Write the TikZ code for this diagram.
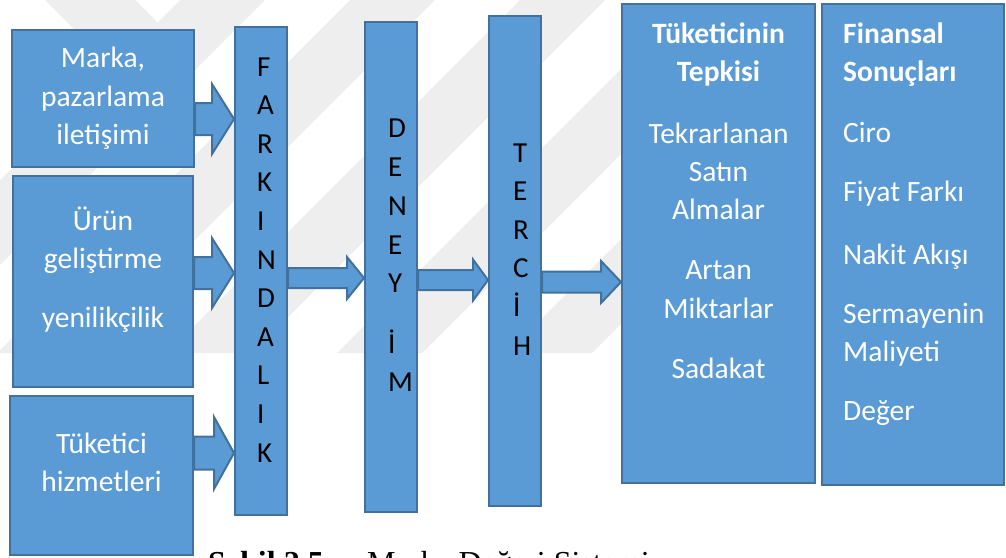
\documentclass[tikz,border=0pt]{standalone}
\usepackage{fontspec}
\setmainfont{Carlito}
\newfontfamily\capfont{Liberation Serif}
\usetikzlibrary{calc}
\definecolor{boxfill}{HTML}{5B9BD5}
\definecolor{boxline}{HTML}{41719C}
\definecolor{wmgrey}{HTML}{EEEEEE}

\tikzset{
  box/.style={draw=boxline, fill=boxfill, line width=2pt, rectangle, inner sep=0pt},
  blockarrow/.style={draw=boxline, fill=boxfill, line width=2pt, line join=miter},
  wtext/.style={text=white, font=\fontsize{29.5}{34}\selectfont, anchor=base, inner sep=0pt},
  wbold/.style={wtext, font=\fontsize{29.5}{34}\selectfont\bfseries},
  wleft/.style={wtext, anchor=base west},
  wleftbold/.style={wbold, anchor=base west},
  letter/.style={text=black, font=\fontsize{29}{34}\selectfont, anchor=base west, inner sep=0pt},
  captext/.style={font=\capfont\fontsize{32}{38}\selectfont, anchor=base west, inner sep=0pt},
  wm/.style={fill=wmgrey}
}

% block arrow: #1 tail point, #2 tip point, #3 shaft half-height, #4 head half-height, #5 head length
\newcommand\blockarrow[5]{%
  \draw[blockarrow] let \p1=(#1), \p2=(#2) in
    (\x1,\y2+#3pt) -- (\x2-#5pt,\y2+#3pt) -- (\x2-#5pt,\y2+#4pt) -- (\x2,\y2)
    -- (\x2-#5pt,\y2-#4pt) -- (\x2-#5pt,\y2-#3pt) -- (\x1,\y2-#3pt) -- cycle;}

\begin{document}
\begin{tikzpicture}[x=1pt, y=-1pt]
\useasboundingbox (0,0) rectangle (1006,557);
\clip (0,0) rectangle (1006,557);

% faint background emblem
\fill[wm] (45,0) -- (135,0) -- (170,35) -- (80,35) -- cycle;
\begin{scope}
  \clip (0,0) rectangle (640,353);
  \foreach \a in {180,350,520,690,860}
    \fill[wm] (\a,0) -- (\a+85,0) -- (\a+85-353,353) -- (\a-353,353) -- cycle;
\end{scope}

% arrow levels
\coordinate (y1) at (0,119);
\coordinate (y2) at (0,273);
\coordinate (y3) at (0,453);
\coordinate (y4) at (0,278);
\coordinate (y5) at (0,280);
\coordinate (y6) at (0,282);

% boxes (geometry only)
\node[box, minimum width=182pt, minimum height=137pt] (m) at (103,98.5) {};
\node[box, minimum width=180pt, minimum height=211pt] (u) at (103,281.5) {};
\node[box, minimum width=183pt, minimum height=159pt] (t) at (101.5,475.5) {};
\node[box, minimum width=52pt, minimum height=488pt] (fb) at (261,271) {};
\node[box, minimum width=52pt, minimum height=490pt] (db) at (391,267) {};
\node[box, minimum width=52pt, minimum height=490pt] (tb) at (515,261) {};
\node[box, minimum width=193pt, minimum height=479pt] (k) at (718.5,243.5) {};
\node[box, minimum width=182pt, minimum height=481pt] (f) at (913,244.5) {};

% block arrows
\blockarrow{m.east |- y1}{fb.west |- y1}{16}{35}{22}
\blockarrow{u.east |- y2}{fb.west |- y2}{16}{35}{22}
\blockarrow{t.east |- y3}{fb.west |- y3}{16.5}{36}{20}
\blockarrow{fb.east |- y4}{db.west |- y4}{10}{21}{17}
\blockarrow{db.east |- y5}{tb.west |- y5}{10}{20.5}{15}
\blockarrow{tb.east |- y6}{k.west |- y6}{10.5}{21}{20}

% left boxes text
\node[wtext] (m1) at (103,67) {Marka,};
\node[wtext] (m2) at (103,106) {pazarlama};
\node[wtext] (m3) at (103,144) {iletişimi};
\node[wtext] (u1) at (103,230) {Ürün};
\node[wtext] (u2) at (103,268) {geliştirme};
\node[wtext] (u3) at (103,327) {yenilikçilik};
\node[wtext] (t1) at (101.5,453) {Tüketici};
\node[wtext] (t2) at (101.5,491) {hizmetleri};

% vertical words
\foreach \c [count=\i] in {F,A,R,K,I,N,D,A,L,I,K}
  \node[letter] (fl\i) at (257,{76+38.6*(\i-1)}) {\c};
\node[letter] (dl1) at (388,137) {D};
\node[letter] (dl2) at (388,176) {E};
\node[letter] (dl3) at (388,215) {N};
\node[letter] (dl4) at (388,254) {E};
\node[letter] (dl5) at (388,292) {Y};
\node[letter] (dl6) at (388,353) {İ};
\node[letter] (dl7) at (388,391) {M};
\foreach \c [count=\i] in {T,E,R,C,İ,H}
  \node[letter] (tl\i) at (513,{162+38.6*(\i-1)}) {\c};

% consumer response column
\node[wbold] (k1) at (718.5,43) {Tüketicinin};
\node[wbold] (k2) at (718.5,81) {Tepkisi};
\node[wtext] (k3) at (718.5,143) {Tekrarlanan};
\node[wtext] (k4) at (718.5,181) {Satın};
\node[wtext] (k5) at (718.5,219) {Almalar};
\node[wtext] (k6) at (718.5,279) {Artan};
\node[wtext] (k7) at (718.5,318) {Miktarlar};
\node[wtext] (k8) at (718.5,378) {Sadakat};

% financial results column
\node[wleftbold] (f1) at (843,43) {Finansal};
\node[wleftbold] (f2) at (843,81) {Sonuçları};
\node[wleft] (f3) at (843,142) {Ciro};
\node[wleft] (f4) at (843,201) {Fiyat Farkı};
\node[wleft] (f5) at (843,264) {Nakit Akışı};
\node[wleft] (f6) at (843,323) {Sermayenin};
\node[wleft] (f7) at (843,361) {Maliyeti};
\node[wleft] (f8) at (843,420) {Değer};

% caption
\node[captext] (c1) at (208,573) {\bfseries Şekil 2.5.};
\node[captext] (c2) at (367,573) {Marka Değeri Sistemi};
\end{tikzpicture}
\end{document}
